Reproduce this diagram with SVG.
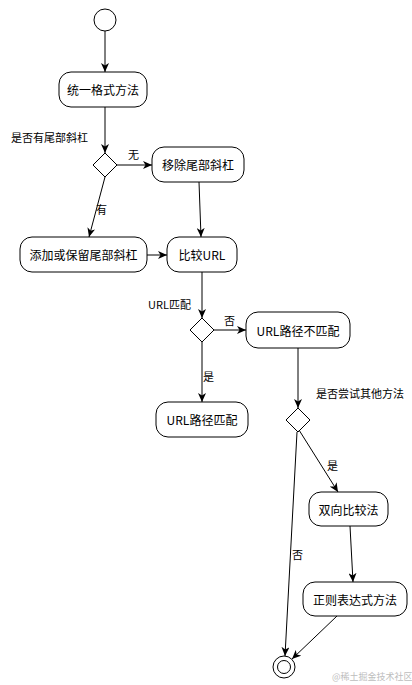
<svg xmlns="http://www.w3.org/2000/svg" width="412" height="685" viewBox="0 0 412 685">
<style>
.node rect{fill:#fff;stroke:#000;stroke-width:1}
.node text{font-family:"Noto Sans CJK SC","Liberation Sans",sans-serif;font-size:12px;fill:#000;text-anchor:middle;dominant-baseline:central}
.dec polygon{fill:#fff;stroke:#000;stroke-width:1}
.edges line{stroke:#000;stroke-width:1;marker-end:url(#arr)}
.lbl{font-family:"Noto Sans CJK SC","Liberation Sans",sans-serif;font-size:11px;fill:#000}
.wm{font-family:"Noto Sans CJK SC",sans-serif;font-size:9px;fill:#bdbdbd}
</style>
<defs>
<marker id="arr" markerWidth="10" markerHeight="8" refX="9" refY="4" orient="auto" markerUnits="userSpaceOnUse">
<path d="M0,0 L9,4 L0,8 L2.5,4 z" fill="#000"/>
</marker>
</defs>
<rect width="412" height="685" fill="#fff"/>
<g id="start"><circle cx="105" cy="20" r="11" fill="#fff" stroke="#000"/></g>
<g id="n1" class="node"><rect x="59" y="72" width="88" height="35" rx="12"/><text x="103" y="89.5">统一格式方法</text></g>
<g id="d1" class="dec"><polygon points="105,153 117,165 105,177 93,165"/></g>
<g id="n2" class="node"><rect x="152" y="147" width="92" height="35" rx="12"/><text x="198" y="164.5">移除尾部斜杠</text></g>
<g id="n3" class="node"><rect x="20" y="237" width="127" height="35" rx="12"/><text x="83.5" y="254.5">添加或保留尾部斜杠</text></g>
<g id="n4" class="node"><rect x="167" y="237" width="70" height="35" rx="12"/><text x="202" y="254.5">比较URL</text></g>
<g id="d2" class="dec"><polygon points="202,318 214,330 202,342 190,330"/></g>
<g id="n5" class="node"><rect x="246" y="312" width="104" height="36" rx="12"/><text x="298" y="330">URL路径不匹配</text></g>
<g id="n6" class="node"><rect x="156" y="402" width="92" height="35" rx="12"/><text x="202" y="419.5">URL路径匹配</text></g>
<g id="d3" class="dec"><polygon points="298,408 310,420 298,432 286,420"/></g>
<g id="n7" class="node"><rect x="309" y="492" width="79" height="34" rx="12"/><text x="348.5" y="509">双向比较法</text></g>
<g id="n8" class="node"><rect x="303" y="582" width="104" height="34" rx="12"/><text x="355" y="599">正则表达式方法</text></g>
<g id="end"><circle cx="284" cy="667" r="11" fill="#fff" stroke="#000"/><circle cx="284" cy="667" r="6.5" fill="#fff" stroke="#000"/></g>
<g class="edges" id="edges">
<line x1="105" y1="31" x2="105" y2="72"/>
<line x1="105" y1="107" x2="105" y2="153"/>
<line x1="117" y1="165" x2="152" y2="165"/>
<line x1="105" y1="177" x2="89" y2="237"/>
<line x1="199" y1="182" x2="201" y2="237"/>
<line x1="147" y1="255" x2="167" y2="255"/>
<line x1="202" y1="272" x2="202" y2="318"/>
<line x1="214" y1="330" x2="246" y2="330"/>
<line x1="202" y1="342" x2="202" y2="402"/>
<line x1="298" y1="348" x2="298" y2="408"/>
<line x1="299" y1="430" x2="338" y2="492"/>
<line x1="297" y1="432" x2="285" y2="656"/>
<line x1="350" y1="526" x2="353" y2="582"/>
<line x1="337" y1="616" x2="292" y2="659"/>
</g>
<g id="labels">
<text class="lbl" x="11" y="142">是否有尾部斜杠</text>
<text class="lbl" x="128" y="159">无</text>
<text class="lbl" x="96" y="214">有</text>
<text class="lbl" x="148" y="309">URL匹配</text>
<text class="lbl" x="224" y="325">否</text>
<text class="lbl" x="203" y="381">是</text>
<text class="lbl" x="316" y="398">是否尝试其他方法</text>
<text class="lbl" x="327" y="470">是</text>
<text class="lbl" x="292" y="559">否</text>
</g>
<text class="wm" x="332" y="680">@稀土掘金技术社区</text>
</svg>
